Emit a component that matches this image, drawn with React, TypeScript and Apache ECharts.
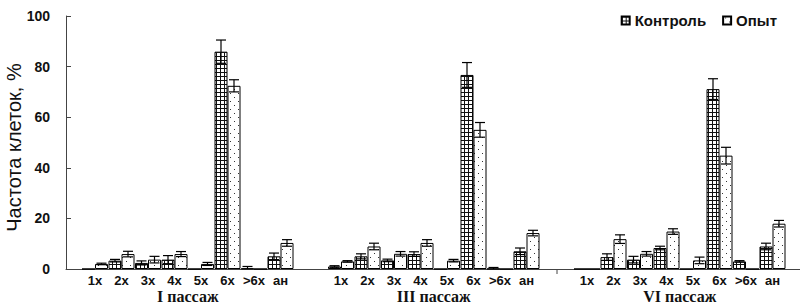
import React, { useEffect, useRef } from "react";
import * as echarts from "echarts";

const categories = ["1x", "2x", "3x", "4x", "5x", "6x", ">6x", "ан"];
const groupTitles = ["I пассаж", "III пассаж", "VI пассаж"];

const controlI = [0, 3.3, 2.4, 3.7, 0, 85.9, 0.2, 5.0];
const controlIII = [1.0, 5.0, 3.4, 5.9, 0, 76.7, 0.1, 7.0];
const controlVI = [0, 4.7, 3.7, 8.3, 0, 71.1, 3.0, 8.9];

const controlErrI = [0, 0.5, 0.8, 1.6, 0, 4.6, 0.8, 1.3];
const controlErrIII = [0.3, 1.0, 0.5, 0.9, 0, 4.9, 0.5, 1.3];
const controlErrVI = [0, 1.3, 1.3, 0.7, 0, 4.1, 0.3, 1.3];

const opytI = [2.0, 5.9, 3.7, 5.9, 2.0, 72.4, 0, 10.3];
const opytIII = [3.0, 8.9, 6.0, 10.3, 3.3, 55.0, 0, 14.2];
const opytVI = [0, 11.8, 6.0, 14.8, 3.4, 44.8, 0, 17.9];

const opytErrI = [0.3, 1.1, 1.3, 1.0, 0.6, 2.4, 0, 1.3];
const opytErrIII = [0.3, 1.3, 0.9, 1.3, 0.5, 2.9, 0, 1.1];
const opytErrVI = [0, 1.7, 0.9, 1.1, 1.3, 3.3, 0, 1.3];

const yTicks = { min: 0, max: 100, interval: 20 };

const controlGroups = [controlI, controlIII, controlVI];
const controlErrGroups = [controlErrI, controlErrIII, controlErrVI];
const opytGroups = [opytI, opytIII, opytVI];
const opytErrGroups = [opytErrI, opytErrIII, opytErrVI];

const SANS = "'Liberation Sans', Arial, sans-serif";
const SERIF = "'Liberation Serif', 'Times New Roman', serif";
const BAR_W = 13;

function makeGridPattern() {
  const c = document.createElement("canvas");
  c.width = 4;
  c.height = 4;
  const ctx = c.getContext("2d")!;
  ctx.fillStyle = "#ffffff";
  ctx.fillRect(0, 0, 4, 4);
  ctx.fillStyle = "#111111";
  ctx.fillRect(0, 0, 4, 1);
  ctx.fillRect(0, 0, 1, 4);
  return c;
}

function makeDotPattern() {
  const c = document.createElement("canvas");
  c.width = 8;
  c.height = 8;
  const ctx = c.getContext("2d")!;
  ctx.fillStyle = "#ffffff";
  ctx.fillRect(0, 0, 8, 8);
  ctx.fillStyle = "#333333";
  ctx.fillRect(2, 1, 1, 1);
  ctx.fillRect(6, 5, 1, 1);
  return c;
}

export default function App() {
  const ref = useRef<HTMLDivElement>(null);

  useEffect(() => {
    if (!ref.current) return;
    const chart = echarts.init(ref.current, null, { renderer: "svg" });

    const gridCanvas = makeGridPattern();
    const dotCanvas = makeDotPattern();
    const gridFill: any = { image: gridCanvas, repeat: "repeat", imageWidth: 4, imageHeight: 4 };
    const dotFill: any = { image: dotCanvas, repeat: "repeat", imageWidth: 8, imageHeight: 8 };

    const groupLefts = [81.75, 327.75, 573.75];
    const grids: any[] = [
      { left: 66, top: 16, width: 734, height: 253, containLabel: false, outerBoundsMode: "none" },
    ];
    const xAxes: any[] = [
      {
        type: "value",
        gridIndex: 0,
        min: 0,
        max: 1,
        axisLine: { show: true, lineStyle: { color: "#444", width: 1 } },
        axisTick: { show: false },
        axisLabel: { show: false },
        splitLine: { show: false },
      },
    ];
    const yAxes: any[] = [
      {
        type: "value",
        gridIndex: 0,
        min: yTicks.min,
        max: yTicks.max,
        interval: yTicks.interval,
        axisLine: { show: true, lineStyle: { color: "#444", width: 1 } },
        axisTick: { show: true, inside: true, length: 5, lineStyle: { color: "#444" } },
        splitLine: { show: false },
        axisLabel: {
          margin: 16,
          color: "#111",
          fontFamily: SANS,
          fontWeight: "bold",
          fontSize: 14,
        },
        name: "Частота клеток, %",
        nameLocation: "middle",
        nameRotate: 90,
        nameGap: 42,
        nameMoveOverlap: false,
        nameTextStyle: {
          fontFamily: SANS,
          fontSize: 20,
          color: "#111",
          padding: [0, 10, 0, 0],
        },
      },
    ];
    const series: any[] = [];

    groupTitles.forEach((title, g) => {
      const idx = g + 1;
      grids.push({
        left: groupLefts[g],
        top: 16,
        width: 212,
        height: 253,
        containLabel: false,
        outerBoundsMode: "none",
      });
      xAxes.push({
        type: "category",
        gridIndex: idx,
        data: categories,
        axisLine: { show: false },
        axisTick: { show: false },
        axisLabel: {
          interval: 0,
          margin: 5,
          color: "#111",
          fontFamily: SANS,
          fontWeight: "bold",
          fontSize: 13,
        },
        name: title,
        nameLocation: "middle",
        nameGap: 19,
        nameMoveOverlap: false,
        nameTextStyle: {
          fontFamily: SERIF,
          fontWeight: "bold",
          fontSize: 16,
          lineHeight: 16,
          color: "#111",
        },
      });
      yAxes.push({
        type: "value",
        gridIndex: idx,
        min: yTicks.min,
        max: yTicks.max,
        show: false,
      });
      series.push({
        name: "Контроль",
        type: "bar",
        xAxisIndex: idx,
        yAxisIndex: idx,
        barWidth: BAR_W,
        barGap: "0%",
        data: controlGroups[g],
        itemStyle: { color: gridFill, borderColor: "#000", borderWidth: 1 },
      });
      series.push({
        name: "Опыт",
        type: "bar",
        xAxisIndex: idx,
        yAxisIndex: idx,
        barWidth: BAR_W,
        barGap: "0%",
        data: opytGroups[g],
        itemStyle: { color: dotFill, borderColor: "#000", borderWidth: 1 },
      });
      const errData: number[][] = [];
      categories.forEach((_, i) => {
        errData.push([i, controlGroups[g][i], controlErrGroups[g][i], -1]);
        errData.push([i, opytGroups[g][i], opytErrGroups[g][i], 1]);
      });
      series.push({
        name: "err" + g,
        type: "custom",
        xAxisIndex: idx,
        yAxisIndex: idx,
        z: 5,
        silent: true,
        encode: { x: 0, y: 1 },
        data: errData,
        renderItem: (params: any, api: any) => {
          const x = api.value(0);
          const v = api.value(1);
          const e = api.value(2);
          const side = api.value(3);
          if (!e) return null;
          const c = api.coord([x, v]);
          const cx = c[0] + (side * BAR_W) / 2;
          const top = api.coord([x, v + e])[1];
          const lowV = Math.max(0, v - e);
          const bot = api.coord([x, lowV])[1];
          const half = 5;
          const st = { stroke: "#000", lineWidth: 1.2 };
          const children: any[] = [
            { type: "line", shape: { x1: cx, y1: top, x2: cx, y2: bot }, style: st },
            { type: "line", shape: { x1: cx - half, y1: top, x2: cx + half, y2: top }, style: st },
          ];
          if (v - e > 0) {
            children.push({
              type: "line",
              shape: { x1: cx - half, y1: bot, x2: cx + half, y2: bot },
              style: st,
            });
          }
          return { type: "group", children };
        },
      });
    });

    chart.setOption({
      animation: false,
      backgroundColor: "#ffffff",
      grid: grids,
      xAxis: xAxes,
      yAxis: yAxes,
      legend: {
        data: ["Контроль", "Опыт"],
        top: 8,
        right: 18,
        itemWidth: 8,
        itemHeight: 8,
        itemGap: 16,
        icon: "rect",
        textStyle: { fontFamily: SANS, fontWeight: "bold", fontSize: 15, color: "#111" },
      },
      graphic: [
        {
          type: "line",
          shape: { x1: 557, y1: 269, x2: 557, y2: 274 },
          style: { stroke: "#444", lineWidth: 1 },
        },
      ],
      series,
    });

    return () => chart.dispose();
  }, []);

  return (
    <div
      ref={ref}
      style={{ position: "fixed", left: 0, top: 0, width: 800, height: 305, background: "#fff" }}
    />
  );
}
